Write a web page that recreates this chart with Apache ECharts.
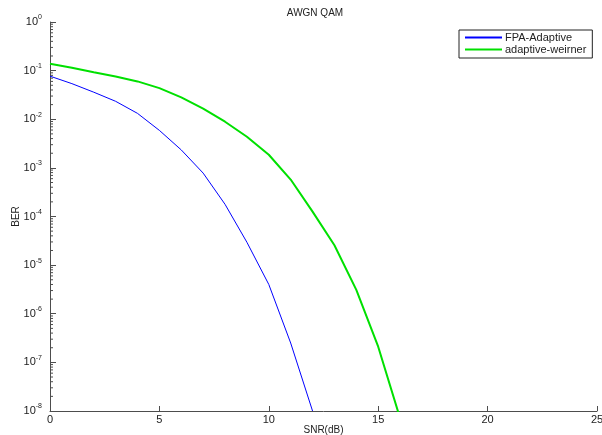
<!DOCTYPE html>
<html>
<head>
<meta charset="utf-8">
<script src="https://cdn.jsdelivr.net/npm/echarts@6/dist/echarts.min.js"></script>
<style>html,body{margin:0;padding:0;background:#fff}#c{width:602px;height:435px}</style>
</head>
<body>
<div id="c"></div>
<script>
const snr = [0,1,2,3,4,5,6,7,8,9,10,11,12,13,14,15,16];
const fpaAdaptive = [0.077,0.054,0.036,0.0234,0.0132,0.0059,0.00234,7.8e-4,1.78e-4,2.95e-5,4.0e-6,2.5e-7,1.0e-8];
const adaptiveWeirner = [0.138,0.115,0.093,0.076,0.060,0.0437,0.0282,0.0166,0.0089,0.00437,0.00186,5.75e-4,1.26e-4,2.57e-5,3.1e-6,2.1e-7,7.1e-9];
const seriesNames = ['FPA-Adaptive','adaptive-weirner'];
const decades = [-8,-7,-6,-5,-4,-3,-2,-1];
const minorMultipliers = [2,3,4,5,6,7,8,9];

const minorTicks = [];
decades.forEach(d => minorMultipliers.forEach(m => minorTicks.push([0, m * Math.pow(10, d)])));

const FONT = 'Liberation Sans';
const AX = '#4d4d4d';
const chart = echarts.init(document.getElementById('c'), null, {renderer:'canvas'});
chart.setOption({
  animation: false,
  backgroundColor: '#fff',
  textStyle: {fontFamily: FONT},
  title: {
    text: 'AWGN QAM', left: 310, top: 3, textAlign: 'center',
    textStyle: {fontFamily: FONT, fontSize: 10, fontWeight: 'normal', color: '#222'}
  },
  legend: {
    orient: 'vertical', left: 459, top: 30,
    data: seriesNames,
    borderColor: '#222', borderWidth: 1, borderRadius: 0,
    padding: [2, 6, 3, 5], itemGap: 1,
    itemWidth: 37, itemHeight: 1,
    textStyle: {fontFamily: FONT, fontSize: 11, color: '#222', padding: [0,0,0,-2]}
  },
  grid: {left: 50, right: 5, top: 22, bottom: 24, containLabel: false, outerBoundsMode: 'none'},
  xAxis: {
    type: 'value', min: 0, max: 25, interval: 5,
    name: 'SNR(dB)', nameLocation: 'middle', nameGap: 14, nameMoveOverlap: false,
    nameTextStyle: {fontFamily: FONT, fontSize: 10, color: '#222'},
    axisLine: {lineStyle: {color: AX, width: 1}},
    axisTick: {inside: true, length: 5, lineStyle: {color: AX}},
    axisLabel: {fontFamily: FONT, fontSize: 11, color: '#222', margin: 3},
    splitLine: {show: false}
  },
  yAxis: {
    type: 'log', logBase: 10, min: 1e-8, max: 1,
    name: 'BER', nameLocation: 'middle', nameGap: 29, nameRotate: 90, nameMoveOverlap: false,
    nameTextStyle: {fontFamily: FONT, fontSize: 10, color: '#222'},
    axisLine: {lineStyle: {color: AX, width: 1}},
    axisTick: {inside: true, length: 6, lineStyle: {color: AX}},
    splitLine: {show: false},
    axisLabel: {
      margin: 8,
      formatter: v => '{b|10}{s|' + Math.round(Math.log10(v)) + '}',
      rich: {
        b: {fontFamily: FONT, fontSize: 11, color: '#222', lineHeight: 16},
        s: {fontFamily: FONT, fontSize: 7, color: '#222', verticalAlign: 'top', lineHeight: 8}
      }
    }
  },
  series: [
    {
      name: seriesNames[0], type: 'line', symbol: 'none', smooth: false,
      data: fpaAdaptive.map((v, i) => [snr[i], v]),
      lineStyle: {color: '#0000ff', width: 1}, itemStyle: {color: '#0000ff'}, clip: true
    },
    {
      name: seriesNames[1], type: 'line', symbol: 'none', smooth: false,
      data: adaptiveWeirner.map((v, i) => [snr[i], v]),
      lineStyle: {color: '#00e000', width: 2}, itemStyle: {color: '#00e000'}, clip: true
    },
    {
      type: 'custom', silent: true, clip: false,
      data: minorTicks,
      renderItem: (params, api) => {
        const p = api.coord([api.value(0), api.value(1)]);
        return {type: 'line', shape: {x1: p[0], y1: p[1], x2: p[0] + 3, y2: p[1]},
                style: {stroke: AX, lineWidth: 1}};
      }
    }
  ]
});
</script>
</body>
</html>
